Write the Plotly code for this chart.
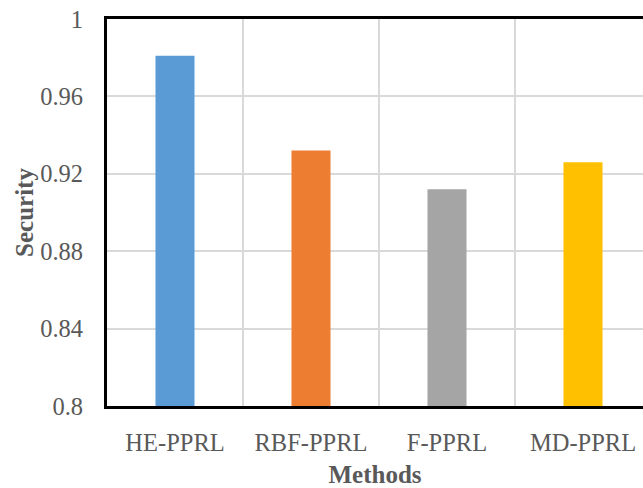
import plotly.graph_objects as go

methods = ["HE-PPRL", "RBF-PPRL", "F-PPRL", "MD-PPRL"]
security = [0.981, 0.932, 0.912, 0.926]
colors = ["#5B9BD5", "#ED7D31", "#A5A5A5", "#FFC000"]
y_ticks = [0.8, 0.84, 0.88, 0.92, 0.96, 1.0]
y_ticklabels = ["0.8", "0.84", "0.88", "0.92", "0.96", "1"]

W, H = 643, 488
L, T = 107, 19
plot_h = 387.5
cat_w = 136.0
x_end = -0.5 + (W - L) / cat_w

fig = go.Figure(go.Bar(x=methods, y=security, marker=dict(color=colors, line=dict(width=0)), width=0.287))

font_family = "Liberation Serif"
tick_font = dict(size=24.5, color="#595959", family=font_family)
title_font = dict(size=25, color="#595959", family=font_family)
fig.update_layout(
    width=W, height=H,
    margin=dict(l=L, r=0, t=T, b=H - T - plot_h, pad=0),
    plot_bgcolor="white", paper_bgcolor="white",
    showlegend=False,
    font=dict(family=font_family, size=23, color="#595959"),
)
fig.update_xaxes(
    type="category", range=[-0.5, x_end],
    tickson="boundaries", showgrid=True, gridcolor="#D9D9D9", gridwidth=2,
    showline=True, linecolor="black", linewidth=3, mirror=True,
    ticks="", ticklabelstandoff=13,
    tickfont=tick_font,
    title=dict(text="<b>Methods</b>", font=title_font, standoff=14),
)
fig.update_yaxes(
    range=[0.8, 1.0], tickvals=y_ticks, ticktext=y_ticklabels,
    showgrid=True, gridcolor="#D9D9D9", gridwidth=2, zeroline=False,
    showline=True, linecolor="black", linewidth=3,
    ticks="", ticklabelstandoff=16,
    tickfont=tick_font,
    title=dict(text="<b>Security</b>", font=title_font, standoff=0),
)
fig.write_html("out.html")
